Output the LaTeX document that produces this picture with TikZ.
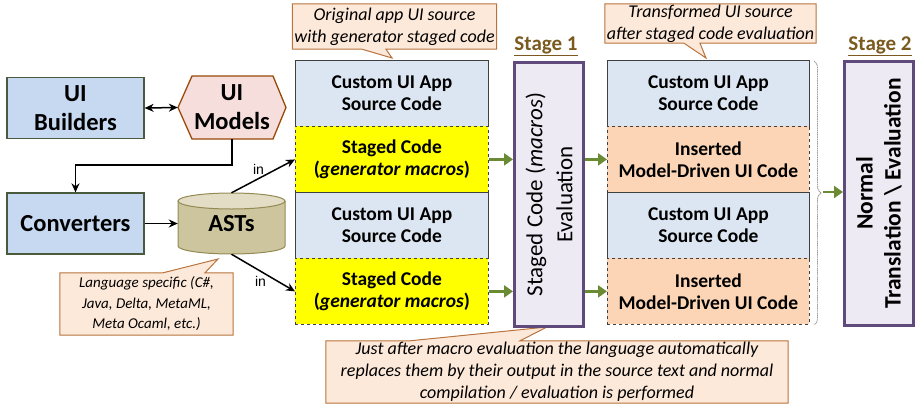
\documentclass[tikz,border=0pt]{standalone}
\usepackage{fontspec}
\setmainfont{Carlito}
\newfontfamily\arialfont{Liberation Sans}
\usetikzlibrary{arrows.meta,decorations.pathreplacing}

\definecolor{toolblue}{HTML}{C6D9F1}
\definecolor{tooledge}{HTML}{4A5A3C}
\definecolor{modelfill}{HTML}{F6DEDC}
\definecolor{modeledge}{HTML}{984807}
\definecolor{astfill}{HTML}{CCC59E}
\definecolor{asttop}{HTML}{E2DDC4}
\definecolor{astedge}{HTML}{948A54}
\definecolor{custblue}{HTML}{DCE6F2}
\definecolor{stagedyellow}{HTML}{FFFF00}
\definecolor{peach}{HTML}{FBD5B5}
\definecolor{notefill}{HTML}{FDE9D9}
\definecolor{noteedge}{HTML}{B8733E}
\definecolor{stagepurple}{HTML}{604A7B}
\definecolor{lavender}{HTML}{EEEAF4}
\definecolor{arrowgreen}{HTML}{6A8A34}
\definecolor{stagebrown}{HTML}{7A5A1E}

\pgfdeclarelayer{notebg}
\pgfsetlayers{notebg,main}

\begin{document}
\begin{tikzpicture}[x=1pt,y=-1pt,
  bigfont/.style={font=\fontsize{24.5}{29}\selectfont\bfseries},
  toolbox/.style={bigfont, draw=tooledge, line width=1.3pt, fill=toolblue,
    minimum width=137pt, minimum height=61pt, inner sep=0pt, align=center},
  srcrow/.style={draw=black!75, line width=0.8pt, fill=custblue,
    minimum height=66pt, anchor=north west, inner sep=0pt, align=center,
    font=\fontsize{19.5}{22}\selectfont\bfseries},
  staged/.style={srcrow, fill=stagedyellow, dashed},
  inserted/.style={srcrow, fill=peach, dashed},
  notetext/.style={inner sep=0pt, align=center,
    font=\fontsize{18}{22}\selectfont\itshape},
  noteshape/.style={draw=noteedge, fill=notefill, line width=1pt, line join=miter},
  stagebox/.style={draw=stagepurple, line width=3pt, fill=lavender,
    minimum width=69pt, minimum height=264pt, anchor=north west, inner sep=0pt},
  stagelabel/.style={font=\fontsize{21}{24}\selectfont\bfseries, text=stagebrown},
  arr/.style={line width=1.5pt, -{Stealth[length=9pt,width=8pt]}},
  garr/.style={line width=2.8pt, draw=arrowgreen,
    -{Triangle[length=9pt,width=12pt]}},
  inlabel/.style={font=\arialfont\fontsize{14}{16}\selectfont}
]
\useasboundingbox (0,0) rectangle (916,408);

% ---- tools and models on the left ----
\node[toolbox] (build) at (75.5,108) {UI\\Builders};
\node[toolbox] (conv) at (75.5,223.5) {Converters};

\draw[draw=modeledge, line width=1.3pt, fill=modelfill]
  (178,107.5) -- (192,76) -- (273,76) -- (286,107.5) -- (273,139) -- (192,139) -- cycle;
\node[bigfont, minimum width=108pt, minimum height=63pt, inner sep=0pt, align=center]
  (models) at (232,107.5) {UI\\Models};

% cylinder of ASTs
\fill[astfill] (178,201) -- (178,246)
  arc[start angle=180, end angle=360, x radius=53.5pt, y radius=8pt]
  -- (285,201)
  arc[start angle=0, end angle=180, x radius=53.5pt, y radius=8pt] -- cycle;
\fill[asttop] (231.5,201) ellipse[x radius=53.5pt, y radius=8pt];
\draw[astedge, line width=1pt] (178,201) -- (178,246)
  arc[start angle=180, end angle=360, x radius=53.5pt, y radius=8pt]
  -- (285,201);
\draw[astedge, line width=1pt] (231.5,201) ellipse[x radius=53.5pt, y radius=8pt];
\node[bigfont, minimum width=107pt, minimum height=61pt, inner sep=0pt]
  (asts) at (231.5,223.5) {\raisebox{-5pt}{ASTs}};

\draw[line width=1.5pt, {Stealth[length=9pt,width=8pt]}-{Stealth[length=9pt,width=8pt]}]
  (build.east) -- (models.west);
\draw[arr] (models.south) -- ++(0,26) -| (conv.north);
\draw[arr] (conv.east) -- (asts.west);

% ---- original source column ----
\node[srcrow, minimum width=193pt] (src1) at (295,60) {Custom UI App\\Source Code};
\node[staged, minimum width=193pt] (stg1) at (295,126) {Staged Code\\(\textit{generator macros})};
\node[srcrow, minimum width=193pt] (src2) at (295,192) {Custom UI App\\Source Code};
\node[staged, minimum width=193pt] (stg2) at (295,258) {Staged Code\\(\textit{generator macros})};

\draw[arr] (asts.north) -- node[inlabel, above left, pos=0.45, xshift=8pt, yshift=-1pt] {in} (stg1.west);
\draw[arr] (asts.south) -- node[inlabel, below left, pos=0.45, xshift=10pt, yshift=-1pt] {in} (stg2.west);

% ---- stage 1 ----
\node[stagelabel] (lab1) at (546,46) {\underline{Stage 1}};
\node[stagebox] (st1) at (513,61) {};
\node[rotate=90, align=center, font=\fontsize{23}{30}\selectfont]
  (st1text) at (st1.center) {Staged Code (\textit{macros})\\Evaluation};

% ---- transformed source column ----
\node[srcrow, minimum width=202pt] (src3) at (607,60) {Custom UI App\\Source Code};
\node[inserted, minimum width=202pt] (ins1) at (607,126) {Inserted\\Model-Driven UI Code};
\node[srcrow, minimum width=202pt] (src4) at (607,192) {Custom UI App\\Source Code};
\node[inserted, minimum width=202pt] (ins2) at (607,258) {Inserted\\Model-Driven UI Code};

\draw[garr] (stg1.east) -- (st1.west |- stg1.east);
\draw[garr] (stg2.east) -- (st1.west |- stg2.east);
\draw[garr] (st1.east |- ins1.west) -- (ins1.west);
\draw[garr] (st1.east |- ins2.west) -- (ins2.west);

% brace gathering the transformed source
\draw[gray!75, line width=0.9pt, dash pattern=on 1.2pt off 0.6pt, decorate,
  decoration={brace, amplitude=7pt}] (814,61) -- (814,325);
\coordinate (bracetip) at (823,192);

% ---- stage 2 ----
\node[stagelabel] (lab2) at (880,46) {\underline{Stage 2}};
\node[stagebox] (st2) at (843,60) {};
\node[rotate=90, align=center, font=\bfseries\fontsize{23.5}{28}\selectfont]
  (st2text) at (st2.center) {Normal\\Translation \textbackslash{} Evaluation};
\draw[garr] (bracetip) -- (st2.west |- bracetip);

% ---- notes: text first, outline with pointer behind it ----
\node[notetext, minimum width=204pt, minimum height=45pt] (note1) at (394.5,26.5)
  {Original app UI source\\with generator staged code};
\node[notetext, minimum width=211pt, minimum height=39pt] (note2) at (710.5,23.5)
  {Transformed UI source\\after staged code evaluation};
\node[notetext, minimum width=173pt, minimum height=62pt,
  font=\fontsize{15}{20.5}\selectfont\itshape] (note3) at (146.5,304)
  {Language specific (C\#,\\Java, Delta, MetaML,\\Meta Ocaml, etc.)};
\node[notetext, minimum width=462pt, minimum height=62pt] (note4) at (557,372)
  {Just after macro evaluation the language automatically\\
   replaces them by their output in the source text and normal\\
   compilation / evaluation is performed};

\begin{pgfonlayer}{notebg}
  \coordinate (tip1) at (392,58);
  \coordinate (tip2) at (706,58);
  \coordinate (tip3) at (218,259);
  \coordinate (tip4) at (547,327);
  \draw[noteshape] (note1.north west) -- (note1.north east) -- (note1.south east)
    -- (386,0 |- note1.south) -- (tip1) -- (362,0 |- note1.south)
    -- (note1.south west) -- cycle;
  \draw[noteshape] (note2.north west) -- (note2.north east) -- (note2.south east)
    -- (700,0 |- note2.south) -- (tip2) -- (684,0 |- note2.south)
    -- (note2.south west) -- cycle;
  \draw[noteshape] (note3.north west) -- (163,0 |- note3.north) -- (tip3)
    -- (205,0 |- note3.north) -- (note3.north east) -- (note3.south east)
    -- (note3.south west) -- cycle;
  \draw[noteshape] (note4.north west) -- (410,0 |- note4.north) -- (tip4)
    -- (520,0 |- note4.north) -- (note4.north east) -- (note4.south east)
    -- (note4.south west) -- cycle;
\end{pgfonlayer}
\end{tikzpicture}
\end{document}
